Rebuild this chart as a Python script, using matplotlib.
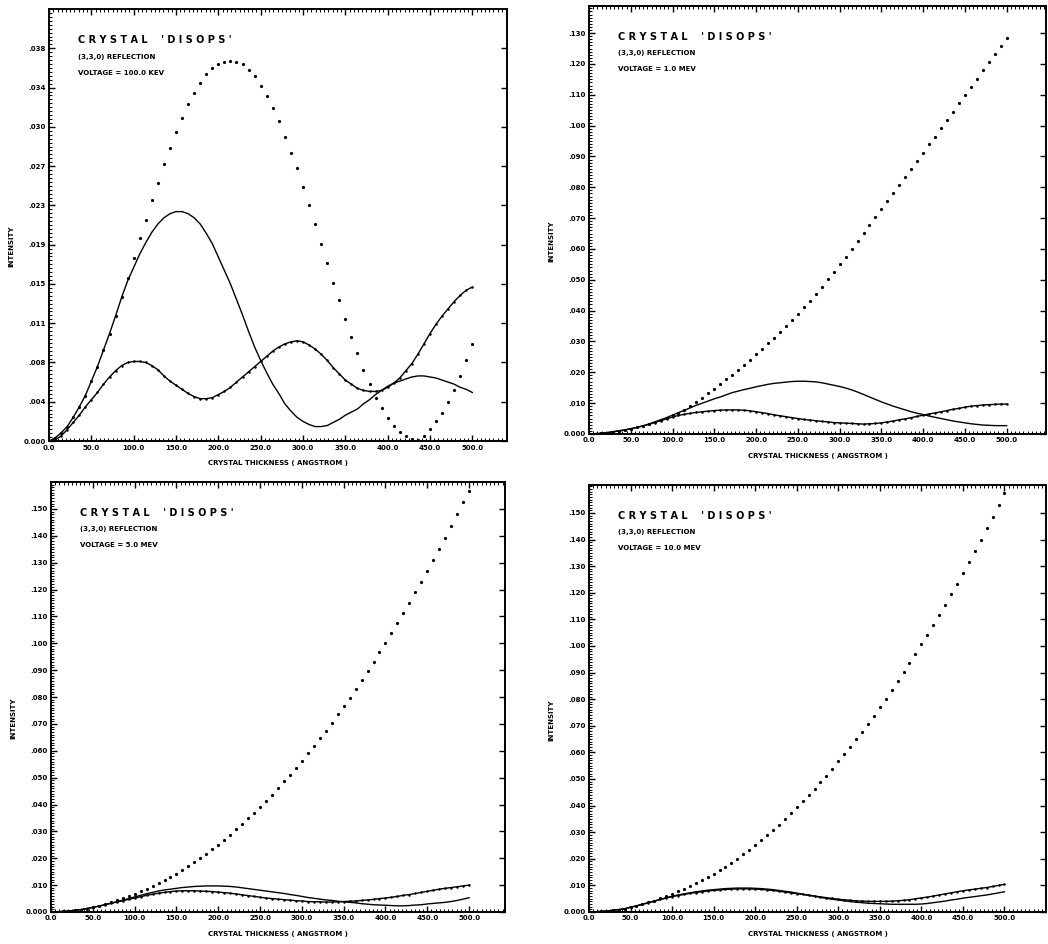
import numpy as np
import matplotlib
matplotlib.use("Agg")
import matplotlib.pyplot as plt
from matplotlib.ticker import AutoMinorLocator

# crystal thickness grid (angstrom), 71 computed points from 0 to 500
thickness = np.linspace(0.0, 500.0, 71)

x_ticks = [0, 50, 100, 150, 200, 250, 300, 350, 400, 450, 500]
x_labels = ['0.0', '50.0', '100.0', '150.0', '200.0', '250.0',
            '300.0', '350.0', '400.0', '450.0', '500.0']

# ---- 100.0 KEV ----
kev100_dots = [
    0.0000, 0.0003, 0.0008, 0.0014, 0.0023, 0.0033, 0.0044, 0.0058, 0.0072, 0.0088,
    0.0104, 0.0121, 0.0139, 0.0158, 0.0177, 0.0196, 0.0214, 0.0233, 0.0250, 0.0268,
    0.0284, 0.0299, 0.0313, 0.0326, 0.0337, 0.0346, 0.0355, 0.0361, 0.0365, 0.0367,
    0.0368, 0.0367, 0.0365, 0.0359, 0.0353, 0.0344, 0.0334, 0.0322, 0.0310, 0.0294,
    0.0279, 0.0264, 0.0246, 0.0228, 0.0210, 0.0191, 0.0172, 0.0153, 0.0136, 0.0118,
    0.0101, 0.0085, 0.0069, 0.0055, 0.0042, 0.0032, 0.0022, 0.0015, 0.0009, 0.0005,
    0.0002, 0.0001, 0.0005, 0.0012, 0.0019, 0.0027, 0.0038, 0.0049, 0.0063, 0.0078,
    0.0094]
kev100_line = [
    0.0000, 0.0003, 0.0008, 0.0014, 0.0023, 0.0033, 0.0044, 0.0058, 0.0072, 0.0088,
    0.0104, 0.0121, 0.0139, 0.0155, 0.0168, 0.0181, 0.0192, 0.0202, 0.0210, 0.0216,
    0.0220, 0.0222, 0.0222, 0.0220, 0.0216, 0.0210, 0.0201, 0.0191, 0.0178, 0.0165,
    0.0152, 0.0137, 0.0122, 0.0106, 0.0091, 0.0078, 0.0066, 0.0055, 0.0046, 0.0036,
    0.0029, 0.0023, 0.0019, 0.0016, 0.0014, 0.0014, 0.0015, 0.0018, 0.0021, 0.0025,
    0.0028, 0.0031, 0.0036, 0.0040, 0.0045, 0.0049, 0.0053, 0.0056, 0.0058, 0.0060,
    0.0062, 0.0063, 0.0063, 0.0062, 0.0061, 0.0059, 0.0057, 0.0055, 0.0052, 0.0050,
    0.0047]
kev100_marked = [
    0.0000, 0.0001, 0.0005, 0.0011, 0.0018, 0.0025, 0.0033, 0.0040, 0.0047, 0.0055,
    0.0062, 0.0068, 0.0073, 0.0076, 0.0077, 0.0077, 0.0076, 0.0073, 0.0069, 0.0063,
    0.0058, 0.0054, 0.0050, 0.0046, 0.0043, 0.0041, 0.0041, 0.0042, 0.0045, 0.0048,
    0.0052, 0.0057, 0.0062, 0.0067, 0.0072, 0.0077, 0.0082, 0.0087, 0.0091, 0.0094,
    0.0096, 0.0097, 0.0096, 0.0093, 0.0089, 0.0084, 0.0078, 0.0071, 0.0065, 0.0059,
    0.0055, 0.0051, 0.0049, 0.0048, 0.0048, 0.0049, 0.0052, 0.0056, 0.0061, 0.0068,
    0.0075, 0.0084, 0.0094, 0.0104, 0.0113, 0.0121, 0.0128, 0.0135, 0.0141, 0.0146,
    0.0149]
kev100_yticks = [0.0, 0.0038, 0.0076, 0.0114, 0.0152, 0.0190,
                 0.0228, 0.0266, 0.0304, 0.0342, 0.0380]
kev100_ylabels = ['0.000', '.004', '.008', '.011', '.015', '.019',
                  '.023', '.027', '.030', '.034', '.038']

# ---- 1.0 MEV ----
mev1_dots = [
    0.0000, 0.0001, 0.0002, 0.0004, 0.0007, 0.0010, 0.0013, 0.0017, 0.0021, 0.0026,
    0.0032, 0.0038, 0.0045, 0.0052, 0.0060, 0.0069, 0.0079, 0.0090, 0.0103, 0.0117,
    0.0132, 0.0147, 0.0162, 0.0177, 0.0192, 0.0208, 0.0224, 0.0241, 0.0258, 0.0276,
    0.0294, 0.0312, 0.0331, 0.0350, 0.0370, 0.0390, 0.0411, 0.0432, 0.0454, 0.0477,
    0.0501, 0.0525, 0.0550, 0.0575, 0.0600, 0.0626, 0.0652, 0.0678, 0.0704, 0.0730,
    0.0756, 0.0783, 0.0808, 0.0834, 0.0860, 0.0886, 0.0912, 0.0939, 0.0964, 0.0991,
    0.1018, 0.1045, 0.1072, 0.1099, 0.1125, 0.1152, 0.1179, 0.1205, 0.1232, 0.1258,
    0.1285]
mev1_line = [
    0.0000, 0.0001, 0.0002, 0.0004, 0.0007, 0.0010, 0.0013, 0.0017, 0.0021, 0.0026,
    0.0032, 0.0039, 0.0046, 0.0053, 0.0061, 0.0069, 0.0077, 0.0085, 0.0093, 0.0100,
    0.0107, 0.0114, 0.0120, 0.0127, 0.0134, 0.0139, 0.0144, 0.0148, 0.0153, 0.0157,
    0.0161, 0.0164, 0.0166, 0.0168, 0.0170, 0.0171, 0.0171, 0.0170, 0.0169, 0.0166,
    0.0162, 0.0158, 0.0154, 0.0149, 0.0143, 0.0136, 0.0128, 0.0120, 0.0112, 0.0104,
    0.0097, 0.0090, 0.0084, 0.0078, 0.0072, 0.0067, 0.0063, 0.0058, 0.0054, 0.0050,
    0.0046, 0.0042, 0.0039, 0.0036, 0.0033, 0.0031, 0.0029, 0.0028, 0.0027, 0.0027,
    0.0027]
mev1_marked = [
    0.0000, 0.0001, 0.0002, 0.0004, 0.0007, 0.0010, 0.0013, 0.0017, 0.0021, 0.0026,
    0.0031, 0.0037, 0.0043, 0.0049, 0.0055, 0.0060, 0.0064, 0.0067, 0.0070, 0.0072,
    0.0074, 0.0076, 0.0077, 0.0078, 0.0078, 0.0078, 0.0077, 0.0075, 0.0072, 0.0069,
    0.0066, 0.0062, 0.0059, 0.0056, 0.0053, 0.0050, 0.0047, 0.0045, 0.0043, 0.0041,
    0.0039, 0.0037, 0.0036, 0.0035, 0.0034, 0.0033, 0.0032, 0.0033, 0.0034, 0.0036,
    0.0039, 0.0042, 0.0046, 0.0049, 0.0053, 0.0057, 0.0061, 0.0065, 0.0068, 0.0072,
    0.0076, 0.0080, 0.0083, 0.0087, 0.0090, 0.0092, 0.0094, 0.0095, 0.0096, 0.0097,
    0.0097]
mev1_yticks = [0.0, 0.01, 0.02, 0.03, 0.04, 0.05, 0.06, 0.07,
               0.08, 0.09, 0.10, 0.11, 0.12, 0.13]
mev1_ylabels = ['0.000', '.010', '.020', '.030', '.040', '.050', '.060', '.070',
                '.080', '.090', '.100', '.110', '.120', '.130']

# ---- 5.0 MEV ----
mev5_dots = [
    0.0000, 0.0001, 0.0002, 0.0004, 0.0006, 0.0009, 0.0013, 0.0018, 0.0023, 0.0029,
    0.0036, 0.0043, 0.0051, 0.0059, 0.0068, 0.0077, 0.0087, 0.0097, 0.0108, 0.0119,
    0.0131, 0.0143, 0.0156, 0.0170, 0.0185, 0.0200, 0.0216, 0.0233, 0.0250, 0.0268,
    0.0287, 0.0307, 0.0327, 0.0348, 0.0370, 0.0392, 0.0414, 0.0437, 0.0461, 0.0486,
    0.0511, 0.0537, 0.0563, 0.0590, 0.0618, 0.0646, 0.0675, 0.0705, 0.0735, 0.0766,
    0.0798, 0.0830, 0.0863, 0.0897, 0.0931, 0.0966, 0.1002, 0.1038, 0.1075, 0.1112,
    0.1150, 0.1189, 0.1229, 0.1269, 0.1310, 0.1351, 0.1393, 0.1436, 0.1480, 0.1524,
    0.1568]
mev5_line = [
    0.0000, 0.0001, 0.0002, 0.0004, 0.0006, 0.0009, 0.0013, 0.0017, 0.0022, 0.0027,
    0.0033, 0.0038, 0.0044, 0.0050, 0.0056, 0.0062, 0.0068, 0.0073, 0.0078, 0.0082,
    0.0085, 0.0088, 0.0091, 0.0093, 0.0095, 0.0096, 0.0097, 0.0097, 0.0097, 0.0096,
    0.0095, 0.0093, 0.0090, 0.0087, 0.0084, 0.0081, 0.0078, 0.0075, 0.0072, 0.0069,
    0.0065, 0.0062, 0.0058, 0.0054, 0.0051, 0.0048, 0.0045, 0.0043, 0.0040, 0.0038,
    0.0036, 0.0034, 0.0031, 0.0029, 0.0027, 0.0026, 0.0025, 0.0024, 0.0023, 0.0023,
    0.0024, 0.0026, 0.0027, 0.0030, 0.0032, 0.0034, 0.0036, 0.0039, 0.0043, 0.0048,
    0.0053]
mev5_marked = [
    0.0000, 0.0001, 0.0002, 0.0004, 0.0006, 0.0009, 0.0013, 0.0017, 0.0022, 0.0027,
    0.0032, 0.0037, 0.0042, 0.0047, 0.0052, 0.0057, 0.0062, 0.0066, 0.0070, 0.0073,
    0.0076, 0.0078, 0.0079, 0.0079, 0.0079, 0.0078, 0.0077, 0.0076, 0.0074, 0.0072,
    0.0070, 0.0067, 0.0064, 0.0061, 0.0058, 0.0055, 0.0052, 0.0050, 0.0048, 0.0046,
    0.0044, 0.0042, 0.0041, 0.0039, 0.0038, 0.0038, 0.0037, 0.0037, 0.0038, 0.0039,
    0.0040, 0.0041, 0.0043, 0.0045, 0.0047, 0.0050, 0.0052, 0.0055, 0.0058, 0.0062,
    0.0065, 0.0069, 0.0073, 0.0077, 0.0081, 0.0085, 0.0088, 0.0091, 0.0094, 0.0097,
    0.0100]
mev5_yticks = [0.0, 0.01, 0.02, 0.03, 0.04, 0.05, 0.06, 0.07,
               0.08, 0.09, 0.10, 0.11, 0.12, 0.13, 0.14, 0.15]
mev5_ylabels = ['0.000', '.010', '.020', '.030', '.040', '.050', '.060', '.070',
                '.080', '.090', '.100', '.110', '.120', '.130', '.140', '.150']

# ---- 10.0 MEV ----
mev10_dots = [
    0.0000, 0.0001, 0.0002, 0.0004, 0.0006, 0.0009, 0.0013, 0.0018, 0.0023, 0.0029,
    0.0036, 0.0043, 0.0051, 0.0060, 0.0069, 0.0078, 0.0088, 0.0098, 0.0109, 0.0120,
    0.0132, 0.0144, 0.0157, 0.0171, 0.0186, 0.0201, 0.0217, 0.0234, 0.0251, 0.0269,
    0.0288, 0.0308, 0.0328, 0.0349, 0.0371, 0.0393, 0.0416, 0.0439, 0.0463, 0.0488,
    0.0513, 0.0539, 0.0566, 0.0593, 0.0621, 0.0649, 0.0678, 0.0708, 0.0738, 0.0769,
    0.0801, 0.0834, 0.0867, 0.0901, 0.0935, 0.0970, 0.1006, 0.1042, 0.1079, 0.1117,
    0.1155, 0.1194, 0.1234, 0.1274, 0.1315, 0.1357, 0.1399, 0.1442, 0.1486, 0.1530,
    0.1575]
mev10_line = [
    0.0000, 0.0001, 0.0002, 0.0004, 0.0006, 0.0009, 0.0012, 0.0018, 0.0023, 0.0029,
    0.0035, 0.0041, 0.0047, 0.0053, 0.0059, 0.0064, 0.0068, 0.0072, 0.0076, 0.0079,
    0.0082, 0.0084, 0.0086, 0.0088, 0.0089, 0.0090, 0.0090, 0.0090, 0.0089, 0.0088,
    0.0086, 0.0084, 0.0081, 0.0078, 0.0075, 0.0071, 0.0067, 0.0063, 0.0059, 0.0055,
    0.0051, 0.0048, 0.0045, 0.0042, 0.0039, 0.0037, 0.0035, 0.0033, 0.0032, 0.0031,
    0.0030, 0.0029, 0.0029, 0.0029, 0.0029, 0.0029, 0.0030, 0.0032, 0.0035, 0.0038,
    0.0041, 0.0045, 0.0048, 0.0052, 0.0055, 0.0058, 0.0061, 0.0064, 0.0068, 0.0072,
    0.0076]
mev10_marked = [
    0.0000, 0.0001, 0.0002, 0.0004, 0.0006, 0.0009, 0.0012, 0.0018, 0.0023, 0.0029,
    0.0035, 0.0041, 0.0047, 0.0053, 0.0058, 0.0062, 0.0066, 0.0070, 0.0073, 0.0076,
    0.0079, 0.0081, 0.0083, 0.0085, 0.0086, 0.0087, 0.0087, 0.0087, 0.0086, 0.0085,
    0.0083, 0.0081, 0.0078, 0.0075, 0.0072, 0.0069, 0.0066, 0.0063, 0.0060, 0.0057,
    0.0054, 0.0051, 0.0048, 0.0046, 0.0044, 0.0042, 0.0041, 0.0040, 0.0040, 0.0040,
    0.0040, 0.0041, 0.0042, 0.0044, 0.0046, 0.0050, 0.0053, 0.0056, 0.0060, 0.0064,
    0.0068, 0.0072, 0.0076, 0.0080, 0.0083, 0.0086, 0.0089, 0.0092, 0.0096, 0.0100,
    0.0104]
mev10_yticks = mev5_yticks
mev10_ylabels = mev5_ylabels

fig = plt.figure(figsize=(10.48, 9.44), dpi=100)
fig.patch.set_facecolor('white')
FONT = 'DejaVu Sans'


def panel(rect, dots, line, marked, volt, yticks, ylabels, ymax, xmax):
    ax = fig.add_axes(rect)
    ax.plot(thickness, line, '-', color='black', lw=1.0)
    ax.plot(thickness, marked, '-', color='black', lw=1.0,
            marker='o', ms=1.8, mew=0, mfc='black')
    ax.plot(thickness, dots, ls='none', marker='o', ms=2.3, mew=0,
            mfc='black')
    ax.set_xlim(0, xmax)
    ax.set_ylim(0, ymax)

    ax.set_xticks(x_ticks)
    ax.set_xticklabels(x_labels, fontsize=5, fontweight='bold', family=FONT)
    ax.set_yticks(yticks)
    ax.set_yticklabels(ylabels, fontsize=5, fontweight='bold', family=FONT)
    ax.xaxis.set_minor_locator(AutoMinorLocator(10))
    ax.yaxis.set_minor_locator(AutoMinorLocator(10))
    ax.tick_params(which='major', direction='in', length=4, width=1.0,
                   top=True, right=True, pad=2.5)
    ax.tick_params(axis='x', which='minor', direction='in', length=2.2,
                   width=0.7, top=True, bottom=True)
    ax.tick_params(axis='y', which='minor', direction='in', length=2.2,
                   width=0.7, left=True, right=False)
    for s in ax.spines.values():
        s.set_linewidth(1.4)

    ax.text(0.064, 0.928, "C R Y S T A L    ' D I S O P S '",
            transform=ax.transAxes, fontsize=7, fontweight='bold',
            family=FONT, va='center', ha='left')
    ax.text(0.064, 0.890, "(3,3,0) REFLECTION", transform=ax.transAxes,
            fontsize=5, fontweight='bold', family=FONT, va='center', ha='left')
    ax.text(0.064, 0.853, "VOLTAGE = " + volt, transform=ax.transAxes,
            fontsize=5, fontweight='bold', family=FONT, va='center', ha='left')

    ax.annotate("CRYSTAL THICKNESS ( ANGSTROM )", xy=(0.5, 0),
                xycoords='axes fraction', xytext=(0, -16),
                textcoords='offset points', ha='center', va='center',
                fontsize=5, fontweight='bold', family=FONT)
    ax.annotate("INTENSITY", xy=(0, 0.45), xycoords='axes fraction',
                xytext=(-27, 0), textcoords='offset points', rotation=90,
                ha='center', va='center', fontsize=5, fontweight='bold',
                family=FONT)
    return ax


panel([0.0468, 0.5328, 0.4370, 0.4576], kev100_dots, kev100_line, kev100_marked,
      "100.0 KEV", kev100_yticks, kev100_ylabels, 0.0418, 541)
panel([0.5620, 0.5403, 0.4361, 0.4534], mev1_dots, mev1_line, mev1_marked,
      "1.0 MEV", mev1_yticks, mev1_ylabels, 0.1388, 547)
panel([0.0487, 0.0339, 0.4332, 0.4555], mev5_dots, mev5_line, mev5_marked,
      "5.0 MEV", mev5_yticks, mev5_ylabels, 0.160, 543)
panel([0.5620, 0.0339, 0.4361, 0.4523], mev10_dots, mev10_line, mev10_marked,
      "10.0 MEV", mev10_yticks, mev10_ylabels, 0.1605, 550)

plt.savefig('out.png', dpi=100)
